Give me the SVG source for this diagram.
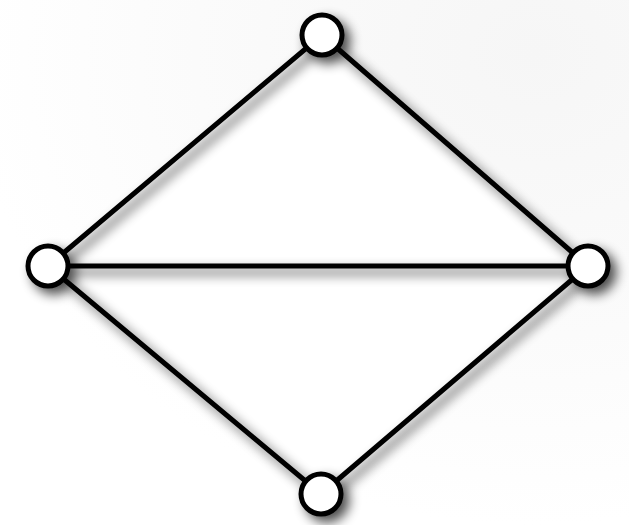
<svg xmlns="http://www.w3.org/2000/svg" width="629" height="525" viewBox="0 0 629 525">
  <defs>
    <radialGradient id="bg" cx="0.85" cy="0.1" r="0.9">
      <stop offset="0" stop-color="#f6f6f6"/>
      <stop offset="0.6" stop-color="#fbfbfb"/>
      <stop offset="1" stop-color="#ffffff"/>
    </radialGradient>
    <filter id="shadow" x="-20%" y="-20%" width="140%" height="140%">
      <feGaussianBlur in="SourceAlpha" stdDeviation="6"/>
      <feOffset dx="6" dy="6" result="b"/>
      <feComponentTransfer><feFuncA type="linear" slope="0.7"/></feComponentTransfer>
      <feMerge><feMergeNode/><feMergeNode in="SourceGraphic"/></feMerge>
    </filter>
    <style>
      .edge { stroke: #000; stroke-width: 5; fill: none; stroke-linecap: round; }
      .node { fill: #fff; stroke: #000; stroke-width: 5; }
    </style>
  </defs>
  <rect width="629" height="525" fill="url(#bg)"/>
  <polygon points="322,35 48,266 321,494 588,266" fill="#fff"/>
  <g filter="url(#shadow)">
    <g id="edges">
      <line class="edge" x1="322" y1="35" x2="48" y2="266"/>
      <line class="edge" x1="322" y1="35" x2="588" y2="266"/>
      <line class="edge" x1="48" y1="266" x2="588" y2="266"/>
      <line class="edge" x1="48" y1="266" x2="321" y2="494"/>
      <line class="edge" x1="588" y1="266" x2="321" y2="494"/>
    </g>
    <g id="n-top"><circle class="node" cx="322" cy="35" r="20"/></g>
    <g id="n-left"><circle class="node" cx="48" cy="266" r="20"/></g>
    <g id="n-right"><circle class="node" cx="588" cy="266" r="20"/></g>
    <g id="n-bottom"><circle class="node" cx="321" cy="494" r="20"/></g>
  </g>
</svg>
